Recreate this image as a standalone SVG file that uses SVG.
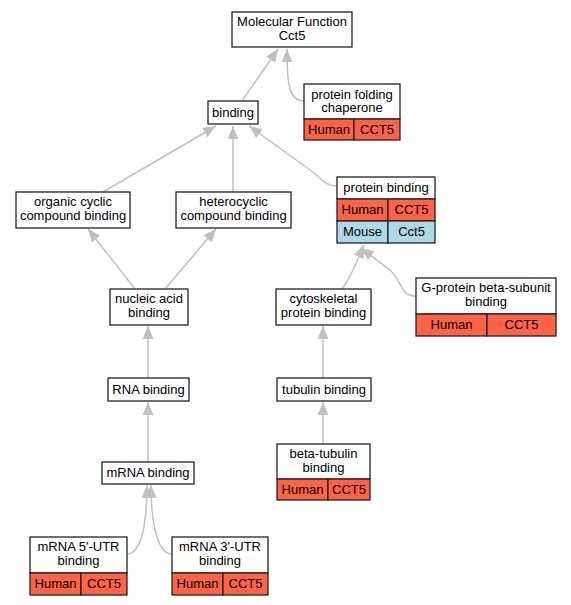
<svg xmlns="http://www.w3.org/2000/svg" width="571" height="605" viewBox="0 0 571 605">
<style>
text{font-family:"Liberation Sans",Arial,sans-serif;font-size:13px;fill:#000;text-anchor:middle}
.b{fill:#fff;stroke:#222;stroke-width:1.3}
.h{fill:#ff6347;stroke:#222;stroke-width:1.3}
.m{fill:#add8e6;stroke:#222;stroke-width:1.3}
.e{fill:none;stroke:#c0c0c0;stroke-width:1.5;marker-end:url(#a)}
</style>
<defs>
<marker id="a" markerUnits="userSpaceOnUse" markerWidth="14" markerHeight="12" refX="13" refY="5.5" orient="auto">
<path d="M0,0 L13,5.5 L0,11 z" fill="#c0c0c0"/>
</marker>
</defs>
<rect width="571" height="605" fill="#fff"/>
<g id="edges">
<path class="e" d="M242,101 L278,49"/>
<path class="e" d="M304,101 C289,101 287,85 287,49"/>
<path class="e" d="M103,192 L216,126"/>
<path class="e" d="M233,192 L233,126"/>
<path class="e" d="M337,186 C324,186 322,178 310,170 L249,126"/>
<path class="e" d="M135,289 L88,229"/>
<path class="e" d="M165,289 L216,229"/>
<path class="e" d="M148,378 L148,326"/>
<path class="e" d="M148,462 L148,402"/>
<path class="e" d="M127,554 C141,554 147,525 147,485"/>
<path class="e" d="M172,554 C158,554 151,525 151,485"/>
<path class="e" d="M323,378 L323,326"/>
<path class="e" d="M323,444 L323,402"/>
<path class="e" d="M342,289 C350,278 354,268 364,245"/>
<path class="e" d="M416,296 C400,296 403,282 390,270 L361,248"/>
</g>
<g id="mf">
<rect class="b" x="232" y="12" width="120" height="35"/>
<text x="292" y="26">Molecular Function</text>
<text x="292" y="40">Cct5</text>
</g>
<g id="binding">
<rect class="b" x="208" y="101" width="50" height="23"/>
<text x="233" y="117">binding</text>
</g>
<g id="pfc">
<rect class="b" x="304" y="84" width="96" height="35"/>
<text x="352" y="98.5">protein folding</text>
<text x="352" y="112">chaperone</text>
<rect class="h" x="304" y="119" width="50" height="21"/>
<rect class="h" x="354" y="119" width="46" height="21"/>
<text x="329" y="134">Human</text>
<text x="377" y="134">CCT5</text>
</g>
<g id="organic">
<rect class="b" x="16" y="192" width="114" height="36"/>
<text x="73" y="206">organic cyclic</text>
<text x="73" y="220">compound binding</text>
</g>
<g id="hetero">
<rect class="b" x="176" y="192" width="115" height="36"/>
<text x="233.5" y="206">heterocyclic</text>
<text x="233.5" y="220">compound binding</text>
</g>
<g id="protein">
<rect class="b" x="337" y="177" width="98" height="22"/>
<text x="386" y="192">protein binding</text>
<rect class="h" x="337" y="199" width="51" height="22"/>
<rect class="h" x="388" y="199" width="47" height="22"/>
<text x="362.5" y="214">Human</text>
<text x="411.5" y="214">CCT5</text>
<rect class="m" x="337" y="221" width="51" height="22"/>
<rect class="m" x="388" y="221" width="47" height="22"/>
<text x="362.5" y="236">Mouse</text>
<text x="411.5" y="236">Cct5</text>
</g>
<g id="nucleic">
<rect class="b" x="110" y="289" width="78" height="36"/>
<text x="149" y="303">nucleic acid</text>
<text x="149" y="317">binding</text>
</g>
<g id="cyto">
<rect class="b" x="276" y="289" width="95" height="36"/>
<text x="323.5" y="303">cytoskeletal</text>
<text x="323.5" y="317">protein binding</text>
</g>
<g id="gprot">
<rect class="b" x="416" y="278" width="140" height="36"/>
<text x="486" y="292">G-protein beta-subunit</text>
<text x="486" y="306">binding</text>
<rect class="h" x="416" y="314" width="71" height="22"/>
<rect class="h" x="487" y="314" width="69" height="22"/>
<text x="451.5" y="329">Human</text>
<text x="521.5" y="329">CCT5</text>
</g>
<g id="rna">
<rect class="b" x="108" y="378" width="81" height="23"/>
<text x="148.5" y="394">RNA binding</text>
</g>
<g id="tubulin">
<rect class="b" x="277" y="378" width="94" height="23"/>
<text x="324" y="394">tubulin binding</text>
</g>
<g id="btub">
<rect class="b" x="277" y="444" width="93" height="35"/>
<text x="323.5" y="458">beta-tubulin</text>
<text x="323.5" y="472">binding</text>
<rect class="h" x="277" y="479" width="51" height="21"/>
<rect class="h" x="328" y="479" width="42" height="21"/>
<text x="302.5" y="494">Human</text>
<text x="349" y="494">CCT5</text>
</g>
<g id="mrna">
<rect class="b" x="102" y="462" width="92" height="22"/>
<text x="148" y="477">mRNA binding</text>
</g>
<g id="utr5">
<rect class="b" x="30" y="537" width="97" height="36"/>
<text x="78.5" y="551">mRNA 5'-UTR</text>
<text x="78.5" y="565">binding</text>
<rect class="h" x="30" y="573" width="51" height="22"/>
<rect class="h" x="81" y="573" width="46" height="22"/>
<text x="55.5" y="588">Human</text>
<text x="104" y="588">CCT5</text>
</g>
<g id="utr3">
<rect class="b" x="172" y="537" width="96" height="36"/>
<text x="220" y="551">mRNA 3'-UTR</text>
<text x="220" y="565">binding</text>
<rect class="h" x="172" y="573" width="51" height="22"/>
<rect class="h" x="223" y="573" width="45" height="22"/>
<text x="197.5" y="588">Human</text>
<text x="245.5" y="588">CCT5</text>
</g>
</svg>
